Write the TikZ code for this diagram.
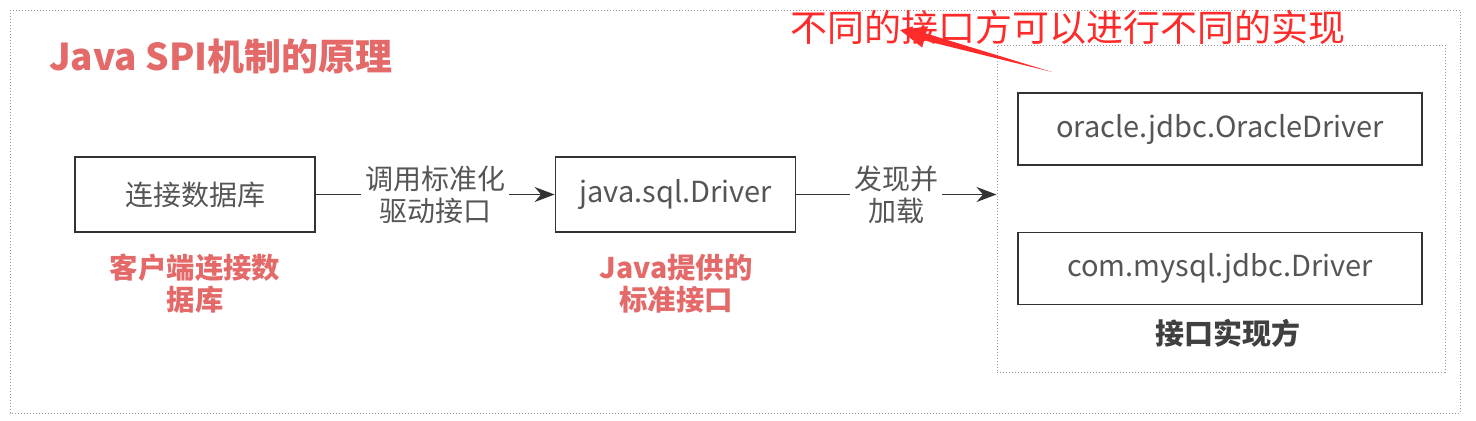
\documentclass[tikz,border=0pt]{standalone}
\usepackage{fontspec}
\setmainfont{Noto Sans CJK SC}
\usetikzlibrary{arrows.meta,positioning,calc}

\definecolor{titlered}{HTML}{E46A6A}
\definecolor{notered}{HTML}{FF2B2B}
\definecolor{boxtext}{HTML}{555555}
\definecolor{dotgray}{HTML}{9A9A9A}

\begin{document}
\begin{tikzpicture}[x=0.5pt, y=-0.5pt,
    box/.style = {draw=black!80, line width=0.9pt, inner sep=0pt,
                  minimum width=120pt, minimum height=37.5pt,
                  text=boxtext, font=\fontsize{14}{16}\selectfont},
    implbox/.style = {box, minimum width=202pt, minimum height=36pt,
                      font=\fontsize{14.5}{16}\selectfont},
    tag/.style = {text=titlered, align=center,
                  font=\bfseries\fontsize{14.2}{16}\selectfont},
    edgelabel/.style = {fill=white, inner sep=2pt, align=center,
                        text=boxtext, font=\fontsize{14}{16}\selectfont},
    link/.style = {draw=black!80, line width=0.9pt,
                   -{Stealth[length=10pt,width=7.5pt]}},
    frame/.style = {draw=dotgray, densely dotted, line width=0.5pt}]

    \useasboundingbox (0,0) rectangle (1476,420);
    \draw[frame] (10,10) rectangle (1460,413);

    % title
    \node[anchor=west, text=titlered, font=\bfseries\fontsize{18.5}{22}\selectfont]
        (title) at (42,56) {Java SPI机制的原理};

    % client and standard interface
    \node[box] (db) at (195,194.5) {连接数据库};
    \node[box, font=\fontsize{14.5}{16}\selectfont] (drv) at (675.5,194.5) {java.sql.Driver};
    \node[tag] (dbtag) at (195,284) {客户端连接数\\据库};
    \node[tag] (drvtag) at (676,284) {Java提供的\\标准接口};

    % implementations
    \node[frame, minimum width=224pt, minimum height=163.5pt] (impl) at (1221,208.5) {};
    \node[implbox] (oracle) at (1220,129) {oracle.jdbc.OracleDriver};
    \node[implbox] (mysql) at (1220,268.5) {com.mysql.jdbc.Driver};
    \node[text=black!75, font=\bfseries\fontsize{14.5}{17}\selectfont]
        (impltag) at (1228,333) {接口实现方};

    \draw[link] (db) -- node[edgelabel] {调用标准化\\驱动接口} (drv);
    \draw[link] (drv) -- node[edgelabel] {发现并\\加载} (drv -| impl.west);

    % note
    \node[text=notered, font=\fontsize{18.5}{22}\selectfont]
        (note) at (1068,27) {不同的接口方可以进行不同的实现};
    \coordinate (tail) at (1052,72);
    \coordinate (tip) at (900,30);
    \coordinate (base) at ($(tip)!13pt!(tail)$);
    \fill[notered] (tail) -- ($(base)!1.8pt!90:(tip)$) -- ($(base)!5.5pt!90:(tip)$)
        -- (tip) -- ($(base)!5.5pt!-90:(tip)$) -- ($(base)!1.8pt!-90:(tip)$) -- cycle;
\end{tikzpicture}
\end{document}
